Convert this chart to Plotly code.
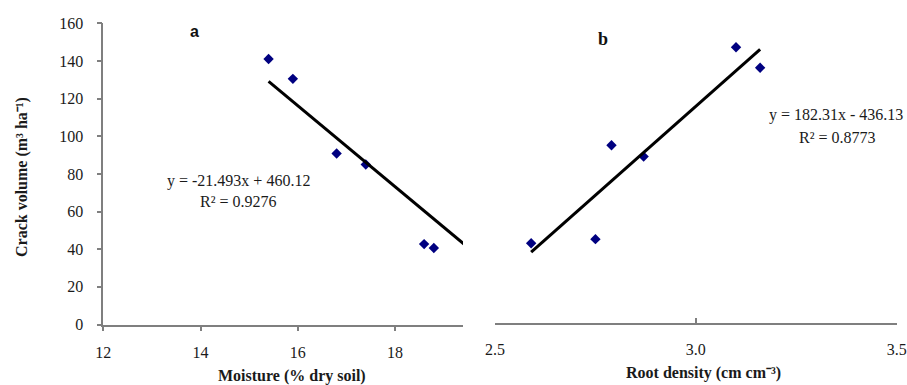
import plotly.graph_objects as go

# Data
crack_volume = [141.0, 130.5, 90.8, 85.0, 42.7, 40.6]
moisture = [15.4, 15.9, 16.8, 17.4, 18.6, 18.8]
root_density = [3.10, 3.16, 2.79, 2.87, 2.75, 2.59]

fit_a = {"slope": -21.493, "intercept": 460.12}
fit_b = {"slope": 182.31, "intercept": -436.13}
fit_a_x = [15.4, 20.0]
fit_b_x = [2.59, 3.16]

eq_a = ["y = -21.493x + 460.12", "R² = 0.9276"]
eq_b = ["y = 182.31x - 436.13", "R² = 0.8773"]

W, H = 907, 385
SERIF = "Liberation Serif"
NAVY = "#000080"
AXC = "#7f7f7f"
TXT = "#1a1a1a"

def px(x):
    return x / W

def py(y):
    return 1 - y / H

fig = go.Figure()

fig.add_trace(go.Scatter(x=moisture, y=crack_volume, mode="markers",
                         marker=dict(symbol="diamond", size=8, color=NAVY),
                         xaxis="x", yaxis="y", showlegend=False))
fig.add_trace(go.Scatter(x=fit_a_x,
                         y=[fit_a["slope"] * v + fit_a["intercept"] for v in fit_a_x],
                         mode="lines", line=dict(color="black", width=3),
                         xaxis="x", yaxis="y", showlegend=False))
fig.add_trace(go.Scatter(x=root_density, y=crack_volume, mode="markers",
                         marker=dict(symbol="diamond", size=8, color=NAVY),
                         xaxis="x2", yaxis="y2", showlegend=False))
fig.add_trace(go.Scatter(x=fit_b_x,
                         y=[fit_b["slope"] * v + fit_b["intercept"] for v in fit_b_x],
                         mode="lines", line=dict(color="black", width=3),
                         xaxis="x2", yaxis="y2", showlegend=False))

tickfont = dict(family=SERIF, size=16, color=TXT)

fig.update_layout(
    template="none",
    width=W, height=H,
    margin=dict(l=0, r=0, t=0, b=0, autoexpand=False),
    paper_bgcolor="white", plot_bgcolor="white",
    xaxis=dict(domain=[px(103.3), px(463)], range=[12, 19.4], anchor="y", automargin=False,
               tickvals=[12, 14, 16, 18], showline=True, linecolor=AXC, linewidth=1.5,
               ticks="outside", ticklen=5, tickcolor=AXC, tickwidth=1.5, showgrid=False,
               zeroline=False, tickfont=tickfont, ticklabelstandoff=8),
    yaxis=dict(domain=[py(324.5), py(23.3)], range=[0, 160], anchor="x", automargin=False,
               tickvals=[0, 20, 40, 60, 80, 100, 120, 140, 160], showline=True,
               linecolor=AXC, linewidth=1.5, ticks="outside", ticklen=5, tickcolor=AXC,
               tickwidth=1.5, showgrid=False, zeroline=False, tickfont=tickfont,
               ticklabelstandoff=10),
    xaxis2=dict(domain=[px(495), px(896.7)], range=[2.5, 3.5], anchor="y2", automargin=False,
                tickvals=[2.5, 3.0, 3.5], ticktext=["2.5", "3.0", "3.5"],
                showline=True, linecolor=AXC, linewidth=1.5,
                ticks="inside", ticklen=5, tickcolor=AXC, tickwidth=1.5, showgrid=False,
                zeroline=False, tickfont=tickfont, ticklabelstandoff=12),
    yaxis2=dict(domain=[py(322.5), py(10.2)], range=[0, 160], anchor="x2",
                automargin=False, visible=False),
)

annots = [
    dict(x=px(22), y=py(177), text="<b>Crack volume (m³ ha⁻¹)</b>", textangle=-90,
         font=dict(family=SERIF, size=16, color=TXT)),
    dict(x=px(292), y=py(376), text="<b>Moisture (% dry soil)</b>",
         font=dict(family=SERIF, size=16, color=TXT)),
    dict(x=px(703), y=py(373), text="<b>Root density (cm cm⁻³)</b>",
         font=dict(family=SERIF, size=16, color=TXT)),
    dict(x=px(194), y=py(31), text="<b>a</b>",
         font=dict(family="Liberation Sans", size=16, color="#111")),
    dict(x=px(603), y=py(39), text="<b>b</b>",
         font=dict(family=SERIF, size=18, color="#111")),
    dict(x=px(238), y=py(181), text=eq_a[0], font=dict(family=SERIF, size=16, color=TXT)),
    dict(x=px(238), y=py(202), text=eq_a[1], font=dict(family=SERIF, size=16, color=TXT)),
    dict(x=px(836), y=py(115), text=eq_b[0], font=dict(family=SERIF, size=16, color=TXT)),
    dict(x=px(837), y=py(137), text=eq_b[1], font=dict(family=SERIF, size=16, color=TXT)),
]
for a in annots:
    a.update(xref="paper", yref="paper", showarrow=False, xanchor="center", yanchor="middle")
    fig.add_annotation(**a)

fig.write_html("out.html", config={"displayModeBar": False},
               post_script="document.body.style.margin='0';document.body.style.overflow='hidden';")
